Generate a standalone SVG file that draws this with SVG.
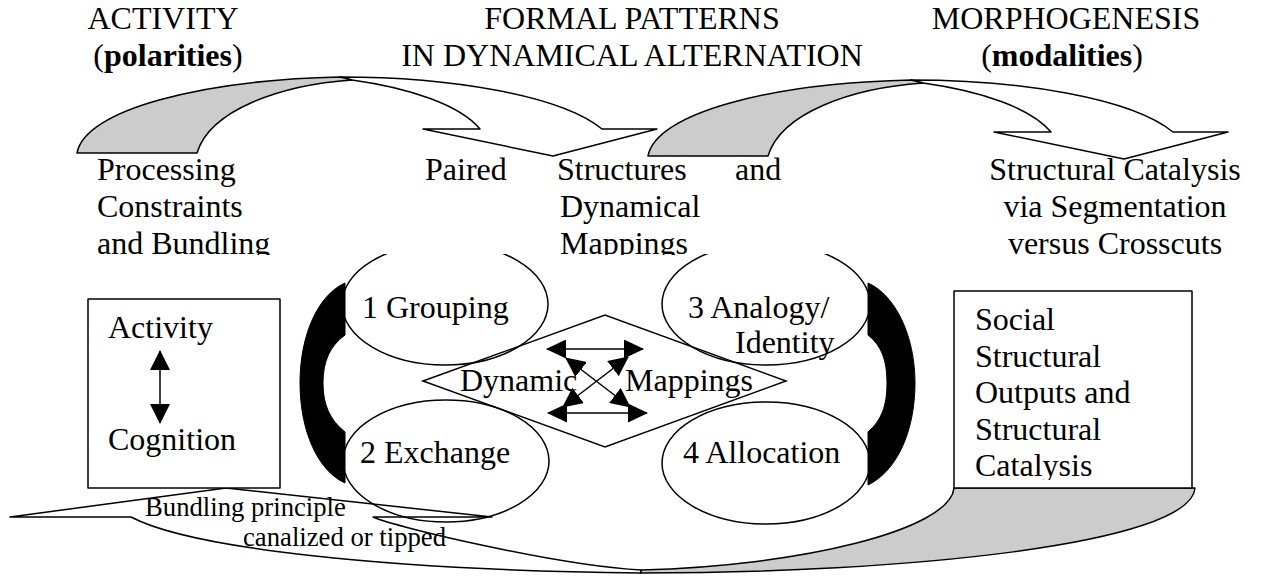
<svg xmlns="http://www.w3.org/2000/svg" width="1270" height="576" viewBox="0 0 1270 576">
<style>
.t{font-family:"Liberation Serif","Times New Roman",serif;font-size:32px;fill:#000}
.s{font-family:"Liberation Serif","Times New Roman",serif;font-size:26.7px;fill:#000}
.b{font-weight:bold}
.ln{fill:none;stroke:#000;stroke-width:1.5}
.wf{fill:#fff;stroke:#000;stroke-width:1.5;stroke-linejoin:round}
.gf{fill:#cccccc;stroke:#000;stroke-width:1.5;stroke-linejoin:round}
.blk{fill:#000;stroke:#000;stroke-width:1}
</style>
<defs>
<marker id="ah" viewBox="0 0 20 19" refX="19" refY="9.5" markerWidth="20" markerHeight="19" markerUnits="userSpaceOnUse" orient="auto-start-reverse"><path d="M0,0 L20,9.5 L0,19 Z" fill="#000"/></marker>
<marker id="ah2" viewBox="0 0 20 20" refX="19" refY="10" markerWidth="20" markerHeight="20" markerUnits="userSpaceOnUse" orient="auto-start-reverse"><path d="M0,0 L20,10 L0,20 Z" fill="#000"/></marker>
<clipPath id="clipTop"><rect x="0" y="150" width="1270" height="105"/></clipPath>
<clipPath id="clipBox"><rect x="954" y="291" width="238" height="189"/></clipPath>
</defs>

<g id="curved-arrows">
  <g id="bottom-arrow">
    <path class="wf" d="M10,517 L226,488 L492,517 L373,517 C395,527 560,566 641,570 L641,573 C380,570 190,548 131,517 Z"/>
    <path class="gf" d="M954,488 L1195,488 C1190,545 900,573 641,573 L641,570 C800,566 950,530 954,488 Z"/>
  </g>
  <g id="top-arrow-1">
    <path class="wf" d="M352,80 C410,88 460,105 480,129 L423,129 L553,156 L657,129 L602,129 C560,95 450,77 340,77 Z"/>
    <path class="gf" d="M77,153 L197,153 C210,110 280,85 352,80 L340,77 C200,80 85,110 77,153 Z"/>
  </g>
  <g id="top-arrow-2" transform="translate(571,3)">
    <path class="wf" d="M352,80 C410,88 460,105 480,129 L423,129 L553,156 L657,129 L602,129 C560,95 450,77 340,77 Z"/>
    <path class="gf" d="M77,153 L197,153 C210,110 280,85 352,80 L340,77 C200,80 85,110 77,153 Z"/>
  </g>
</g>

<g id="titles">
  <text class="t" x="163" y="29" text-anchor="middle">ACTIVITY</text>
  <text class="t" x="168" y="66" text-anchor="middle">(<tspan class="b">polarities</tspan>)</text>
  <text class="t" x="632" y="29" text-anchor="middle">FORMAL PATTERNS</text>
  <text class="t" x="632" y="66" text-anchor="middle">IN DYNAMICAL ALTERNATION</text>
  <text class="t" x="1066" y="29" text-anchor="middle">MORPHOGENESIS</text>
  <text class="t" x="1062" y="66" text-anchor="middle">(<tspan class="b">modalities</tspan>)</text>
</g>

<g id="node-grouping">
  <ellipse class="ln" cx="445" cy="304" rx="103" ry="61"/>
  <text class="t" x="362" y="318">1 Grouping</text>
</g>
<g id="node-exchange">
  <ellipse class="ln" cx="446" cy="461" rx="103" ry="61"/>
  <text class="t" x="360" y="463">2 Exchange</text>
</g>
<g id="node-analogy">
  <ellipse class="ln" cx="766" cy="304" rx="104" ry="61"/>
  <text class="t" x="688" y="318">3 Analogy/</text>
  <text class="t" x="735" y="353">Identity</text>
</g>
<g id="node-allocation">
  <ellipse class="ln" cx="766" cy="463" rx="104" ry="61"/>
  <text class="t" x="683" y="463">4 Allocation</text>
</g>
<g id="node-dynamic-mappings">
  <polygon class="ln" points="423,381 605,315 786,381 605,447"/>
  <text class="t" x="460" y="391">Dynamic</text>
  <text class="t" x="625" y="391">Mappings</text>
</g>
<g id="bands">
  <path class="blk" d="M345,283 C318,295 300,335 300,383 C300,431 318,471 345,483 L345,432 C330,420 323,405 323,383 C323,361 330,346 345,335 Z"/>
  <path class="blk" d="M868,283 C895,295 915,335 915,383 C915,431 897,471 868,485 L868,432 C882,420 887,405 887,383 C887,361 882,346 868,335 Z"/>
</g>
<rect x="340" y="228" width="540" height="26" fill="#fff"/>

<g id="text-columns" clip-path="url(#clipTop)">
  <g id="col-left">
    <text class="t" x="97" y="180">Processing</text>
    <text class="t" x="97" y="217">Constraints</text>
    <text class="t" x="97" y="254">and Bundling</text>
  </g>
  <g id="col-middle">
    <text class="t" x="425" y="180">Paired</text>
    <text class="t" x="557" y="180">Structures</text>
    <text class="t" x="735" y="180">and</text>
    <text class="t" x="560" y="217">Dynamical</text>
    <text class="t" x="560" y="254">Mappings</text>
  </g>
  <g id="col-right">
    <text class="t" x="1115" y="180" text-anchor="middle">Structural Catalysis</text>
    <text class="t" x="1115" y="217" text-anchor="middle">via Segmentation</text>
    <text class="t" x="1115" y="254" text-anchor="middle">versus Crosscuts</text>
  </g>
</g>

<g id="node-activity-cognition">
  <rect class="wf" x="88" y="299" width="192" height="189"/>
  <text class="t" x="108" y="338">Activity</text>
  <text class="t" x="108" y="450">Cognition</text>
</g>
<g id="node-social-outputs">
  <rect class="wf" x="954" y="291" width="238" height="197"/>
  <g clip-path="url(#clipBox)">
    <text class="t" x="975" y="330">Social</text>
    <text class="t" x="975" y="367">Structural</text>
    <text class="t" x="975" y="403">Outputs and</text>
    <text class="t" x="975" y="440">Structural</text>
    <text class="t" x="975" y="476">Catalysis</text>
  </g>
</g>
<g id="bottom-label">
  <text class="s" x="145" y="516">Bundling principle</text>
  <text class="s" x="243" y="546">canalized or tipped</text>
</g>

<g id="connectors" class="ln">
  <line x1="160" y1="351" x2="160" y2="423" marker-start="url(#ah2)" marker-end="url(#ah2)"/>
  <line x1="547" y1="349" x2="643" y2="349" marker-start="url(#ah)" marker-end="url(#ah)"/>
  <line x1="548" y1="413" x2="647" y2="413" marker-start="url(#ah)" marker-end="url(#ah)"/>
  <line x1="566" y1="358" x2="630" y2="407" marker-start="url(#ah)" marker-end="url(#ah)"/>
  <line x1="628" y1="357" x2="563" y2="407" marker-start="url(#ah)" marker-end="url(#ah)"/>
</g>
</svg>
